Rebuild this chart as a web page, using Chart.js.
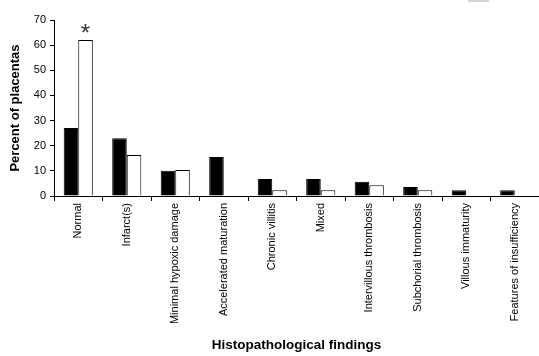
<!DOCTYPE html>
<html>
<head>
<meta charset="utf-8">
<script src="https://cdn.jsdelivr.net/npm/chart.js@4.4.0/dist/chart.umd.min.js"></script>
<style>
  html, body { margin: 0; padding: 0; background: #fff; }
  #wrap { position: relative; width: 539px; height: 356px; }
  #legend-stub { position: absolute; left: 468px; top: 0; width: 21px; height: 2px; background: #d4d4d4; }
</style>
</head>
<body>
<div id="wrap">
  <canvas id="chart" width="539" height="356"></canvas>
  <div id="legend-stub"></div>
</div>
<script>
// categories and values
const findings = [
  "Normal",
  "Infarct(s)",
  "Minimal hypoxic damage",
  "Accelerated maturation",
  "Chronic villitis",
  "Mixed",
  "Intervillous thrombosis",
  "Subchorial thrombosis",
  "Villous immaturity",
  "Features of insufficiency",
];
const casesPct = [27, 23, 10, 15.5, 6.8, 6.8, 5.7, 3.6, 2.3, 2.3];
const controlsPct = [62, 16.3, 10.3, 0, 2.3, 2.3, 4.3, 2.3, 0, 0];
const yTicks = [0, 10, 20, 30, 40, 50, 60, 70];
const significant = [0]; // index of categories marked with *

const FONT = "'Liberation Sans', Arial, sans-serif";

// draws the * above the control bar for significant categories
const asteriskPlugin = {
  id: "asterisk",
  afterDatasetsDraw(chart) {
    const ctx = chart.ctx;
    const meta = chart.getDatasetMeta(1);
    ctx.save();
    ctx.fillStyle = "#333";
    ctx.font = "24px " + FONT;
    ctx.textAlign = "center";
    ctx.textBaseline = "alphabetic";
    significant.forEach((i) => {
      const bar = meta.data[i];
      ctx.fillText("*", bar.x, bar.y + 1);
    });
    ctx.restore();
  },
};

new Chart(document.getElementById("chart"), {
  type: "bar",
  data: {
    labels: findings,
    datasets: [
      {
        label: "Cases",
        data: casesPct,
        backgroundColor: "#000",
        borderColor: "#000",
        borderWidth: 1,
        categoryPercentage: 0.6,
        barPercentage: 1.0,
      },
      {
        label: "Controls",
        data: controlsPct,
        backgroundColor: "#fff",
        borderColor: "#000",
        borderWidth: 1,
        categoryPercentage: 0.6,
        barPercentage: 1.0,
      },
    ],
  },
  options: {
    responsive: false,
    animation: false,
    layout: { padding: { top: 20, right: 0, left: 8, bottom: 0 } },
    plugins: {
      legend: { display: false },
      tooltip: { enabled: false },
    },
    scales: {
      x: {
        grid: {
          drawOnChartArea: false,
          color: "#000",
          tickLength: 5,
          offset: true,
        },
        border: { color: "#000", width: 1 },
        ticks: {
          color: "#000",
          font: { family: FONT, size: 11 },
          maxRotation: 90,
          minRotation: 90,
          autoSkip: false,
          padding: 2,
        },
        title: {
          display: true,
          text: "Histopathological findings",
          color: "#000",
          font: { family: FONT, size: 13.5, weight: "bold" },
          padding: { top: 0, bottom: 3 },
        },
        afterFit(scale) {
          scale.height = 160;
        },
      },
      y: {
        min: 0,
        max: 70,
        afterBuildTicks(scale) {
          scale.ticks = yTicks.map((v) => ({ value: v }));
        },
        grid: {
          drawOnChartArea: false,
          color: "#000",
          tickLength: 4,
        },
        border: { color: "#000", width: 1 },
        ticks: {
          color: "#000",
          font: { family: FONT, size: 11 },
          padding: 4,
        },
        title: {
          display: true,
          text: "Percent of placentas",
          color: "#000",
          font: { family: FONT, size: 13, weight: "bold" },
          padding: { top: 0, bottom: 6 },
        },
        afterFit(scale) {
          scale.width = 46;
        },
      },
    },
  },
  plugins: [asteriskPlugin],
});
</script>
</body>
</html>
